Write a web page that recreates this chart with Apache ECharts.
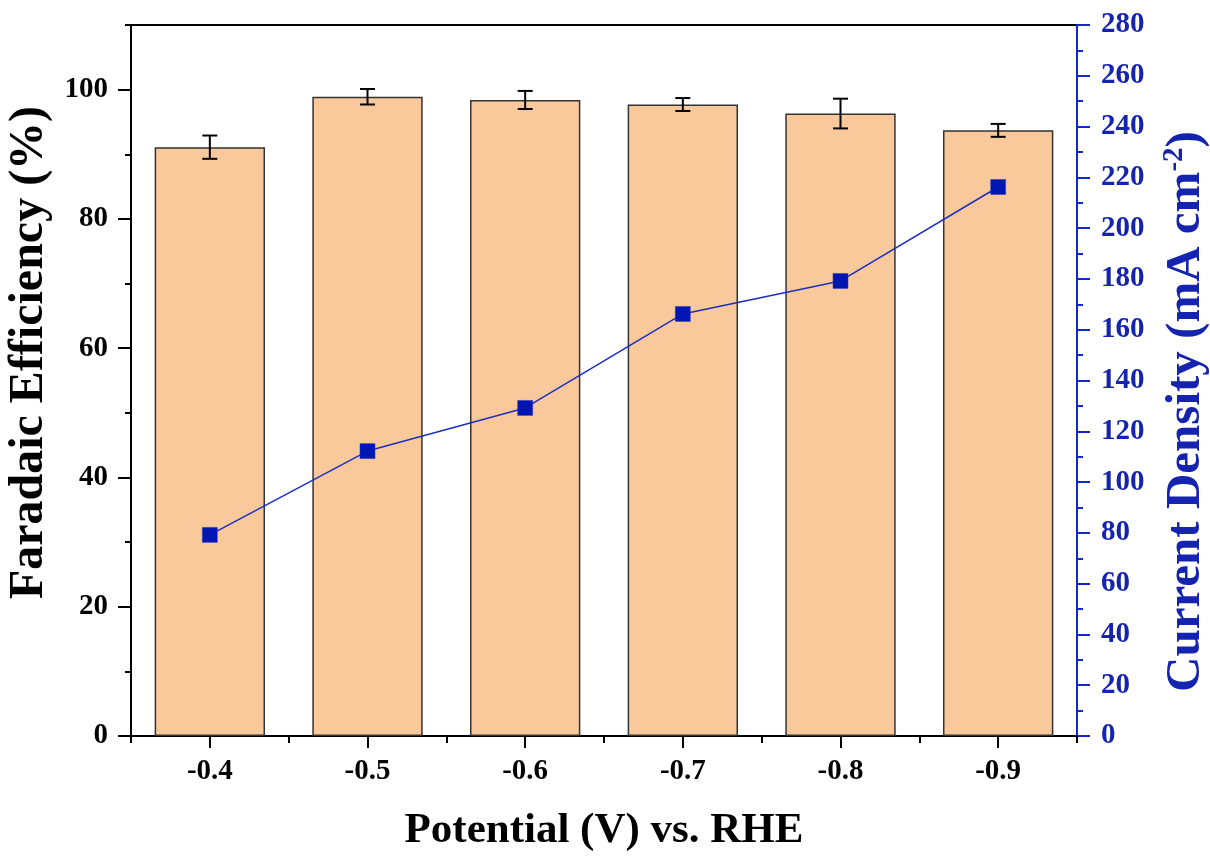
<!DOCTYPE html>
<html>
<head>
<meta charset="utf-8">
<script src="https://cdn.jsdelivr.net/npm/echarts@6/dist/echarts.min.js"></script>
<style>html,body{margin:0;padding:0;background:#fff}#c{width:1210px;height:856px}</style>
</head>
<body>
<div id="c"></div>
<script>
const categories = ['-0.4', '-0.5', '-0.6', '-0.7', '-0.8', '-0.9'];
const faradaicEfficiency = [91.1, 98.9, 98.4, 97.7, 96.3, 93.7];
const feError = [1.8, 1.2, 1.4, 1.0, 2.3, 1.0];
const currentDensity = [79.2, 112.2, 129.2, 166.2, 179.2, 216.2];
const leftTicks = [0, 20, 40, 60, 80, 100];
const leftMinorTicks = [10, 30, 50, 70, 90, 110];
const rightTicks = [0, 20, 40, 60, 80, 100, 120, 140, 160, 180, 200, 220, 240, 260, 280];
const rightMinorTicks = [10, 30, 50, 70, 90, 110, 130, 150, 170, 190, 210, 230, 250, 270];

const errData = categories.map((c, i) => [i, faradaicEfficiency[i] - feError[i], faradaicEfficiency[i] + feError[i]]);

const FONT = "'Liberation Serif', 'Times New Roman', serif";
const BLUE = '#1428c8';
const BLUE_TXT = '#1424b0';

const chart = echarts.init(document.getElementById('c'), null, {renderer: 'canvas'});
chart.setOption({
  animation: false,
  grid: {left: 131, right: 133, top: 25, bottom: 120, containLabel: false, outerBoundsMode: 'none',
         show: true, borderColor: '#000', borderWidth: 2, backgroundColor: 'transparent'},
  xAxis: [{
    type: 'category',
    data: categories,
    boundaryGap: true,
    position: 'bottom',
    axisLine: {show: true, lineStyle: {color: '#000', width: 2}},
    axisTick: {show: true, alignWithLabel: true, length: 12, inside: false, lineStyle: {color: '#000', width: 2}},
    axisLabel: {fontFamily: FONT, fontWeight: 'bold', fontSize: 29, color: '#000', margin: 21},
    name: 'Potential (V) vs. RHE',
    nameLocation: 'middle',
    nameGap: 73,
    nameTextStyle: {fontFamily: FONT, fontWeight: 'bold', fontSize: 43, color: '#000'},
    splitLine: {show: false}
  }, {
    type: 'value',
    min: 0, max: 6, interval: 1,
    position: 'bottom',
    axisLine: {show: false},
    axisTick: {show: true, length: 7, lineStyle: {color: '#000', width: 2}},
    axisLabel: {show: false},
    splitLine: {show: false}
  }],
  yAxis: [{
    type: 'value',
    min: 0, max: 110,
    position: 'left',
    axisLine: {show: true, lineStyle: {color: '#000', width: 2}},
    axisTick: {show: true, length: 13, customValues: leftTicks, lineStyle: {color: '#000', width: 2}},
    axisLabel: {customValues: leftTicks, fontFamily: FONT, fontWeight: 'bold', fontSize: 29, color: '#000', margin: 23},
    name: 'Faradaic Efficiency (%)',
    nameLocation: 'middle',
    nameGap: 73,
    nameRotate: 90,
    nameTextStyle: {fontFamily: FONT, fontWeight: 'bold', fontSize: 48, color: '#000', padding: [0, 0, 0, 56]},
    splitLine: {show: false}
  }, {
    type: 'value',
    min: 0, max: 280,
    position: 'right',
    axisLine: {show: true, lineStyle: {color: BLUE, width: 2}},
    axisTick: {show: true, length: 13, customValues: rightTicks, lineStyle: {color: BLUE, width: 2}},
    axisLabel: {customValues: rightTicks, fontFamily: FONT, fontWeight: 'bold', fontSize: 29, color: BLUE_TXT, margin: 24},
    name: '{t|Current Density (mA cm}{s|-2}{t|)}',
    nameLocation: 'middle',
    nameGap: 83,
    nameRotate: 90,
    nameTextStyle: {
      padding: [0, 62, 0, 0],
      rich: {
        t: {fontFamily: FONT, fontWeight: 'bold', fontSize: 49, color: BLUE_TXT, verticalAlign: 'bottom'},
        s: {fontFamily: FONT, fontWeight: 'bold', fontSize: 29, color: BLUE_TXT, verticalAlign: 'top', padding: [0, 0, 22, 0]}
      }
    },
    splitLine: {show: false}
  }, {
    type: 'value',
    min: 0, max: 110,
    position: 'left',
    axisLine: {show: false},
    axisTick: {show: true, length: 6, customValues: leftMinorTicks, lineStyle: {color: '#000', width: 2}},
    axisLabel: {show: false},
    splitLine: {show: false}
  }, {
    type: 'value',
    min: 0, max: 280,
    position: 'right',
    axisLine: {show: false},
    axisTick: {show: true, length: 6, customValues: rightMinorTicks, lineStyle: {color: BLUE, width: 2}},
    axisLabel: {show: false},
    splitLine: {show: false}
  }],
  series: [{
    type: 'bar',
    xAxisIndex: 0, yAxisIndex: 0,
    data: faradaicEfficiency,
    barWidth: '70%',
    itemStyle: {color: '#f9c89b', borderColor: '#333', borderWidth: 1.5},
    z: 2
  }, {
    type: 'custom',
    xAxisIndex: 0, yAxisIndex: 0,
    data: errData,
    z: 3,
    renderItem: function (params, api) {
      const x = api.value(0);
      const lo = api.coord([x, api.value(1)]);
      const hi = api.coord([x, api.value(2)]);
      const hw = 7.5;
      const st = {stroke: '#000', lineWidth: 2};
      return {type: 'group', children: [
        {type: 'line', shape: {x1: lo[0], y1: lo[1], x2: hi[0], y2: hi[1]}, style: st},
        {type: 'line', shape: {x1: lo[0] - hw, y1: lo[1], x2: lo[0] + hw, y2: lo[1]}, style: st},
        {type: 'line', shape: {x1: hi[0] - hw, y1: hi[1], x2: hi[0] + hw, y2: hi[1]}, style: st}
      ]};
    }
  }, {
    type: 'line',
    xAxisIndex: 0, yAxisIndex: 1,
    data: currentDensity,
    symbol: 'rect',
    symbolSize: 15,
    lineStyle: {color: '#1b2fc0', width: 1.5},
    itemStyle: {color: '#0016b3', borderColor: '#2a3cc8', borderWidth: 0.5},
    z: 4
  }]
});
</script>
</body>
</html>
